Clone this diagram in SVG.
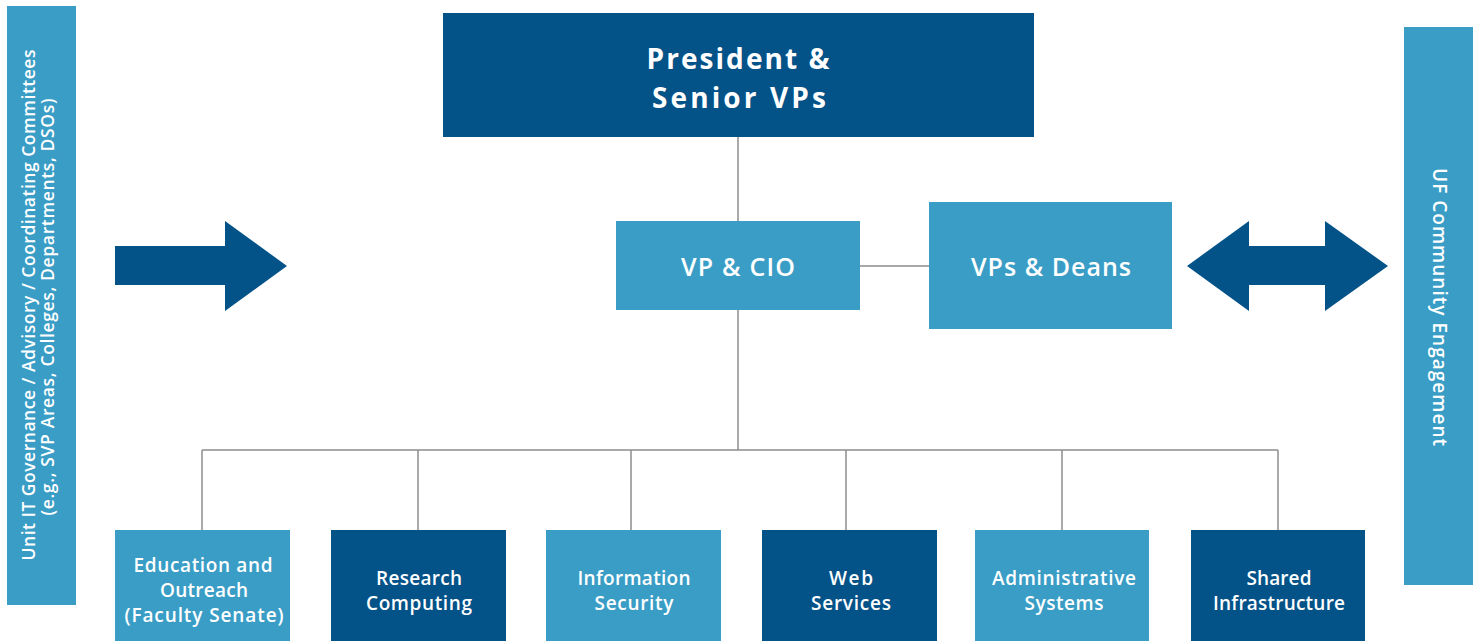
<svg xmlns="http://www.w3.org/2000/svg" width="1481" height="641" viewBox="0 0 1481 641">
<style>
.dark{fill:#035288}
.light{fill:#3a9dc6}
.arrow{fill:#035288}
.t{font-family:"Open Sans","Noto Sans","Liberation Sans",sans-serif;font-weight:600;fill:#ffffff;text-anchor:middle}
.big{font-size:28px;font-weight:700}
.mid{font-size:25px}
.sm{font-size:19px}
.side{font-size:17.5px}
.conn line{stroke:#8c8c8c;stroke-width:1.5;fill:none}
</style>
<rect width="1481" height="641" fill="#ffffff"/>
<g class="conn" id="connectors">
<line x1="738" y1="137" x2="738" y2="221"/>
<line x1="738" y1="310" x2="738" y2="450"/>
<line x1="860" y1="266" x2="929" y2="266"/>
<line x1="202" y1="450" x2="1278" y2="450"/>
<line x1="202" y1="450" x2="202" y2="530"/>
<line x1="418" y1="450" x2="418" y2="530"/>
<line x1="631" y1="450" x2="631" y2="530"/>
<line x1="846" y1="450" x2="846" y2="530"/>
<line x1="1062" y1="450" x2="1062" y2="530"/>
<line x1="1278" y1="450" x2="1278" y2="530"/>
</g>
<g id="unit-it-governance">
<rect class="light" x="7" y="6" width="69" height="599"/>
<text class="t side" transform="translate(35,305) rotate(-90)" textLength="511" lengthAdjust="spacing">Unit IT Governance / Advisory / Coordinating Committees</text>
<text class="t side" transform="translate(54,307) rotate(-90)" textLength="417" lengthAdjust="spacing">(e.g., SVP Areas, Colleges, Departments, DSOs)</text>
</g>
<g id="uf-community">
<rect class="light" x="1404" y="27" width="69" height="558"/>
<text class="t sm" transform="translate(1433,307) rotate(90)" textLength="278" lengthAdjust="spacing">UF Community Engagement</text>
</g>
<g id="arrow-right">
<polygon class="arrow" points="115,246 225,246 225,221 287,266 225,311 225,285 115,285"/>
</g>
<g id="arrow-both">
<polygon class="arrow" points="1187,266 1249,221 1249,246 1325,246 1325,221 1388,266 1325,311 1325,285 1249,285 1249,311"/>
</g>
<g id="president">
<rect class="dark" x="443" y="13" width="591" height="124"/>
<text class="t big" x="738" y="69" textLength="183" lengthAdjust="spacing">President &amp;</text>
<text class="t big" x="739" y="108" textLength="174" lengthAdjust="spacing">Senior VPs</text>
</g>
<g id="vp-cio">
<rect class="light" x="616" y="221" width="244" height="89"/>
<text class="t mid" x="738" y="276" textLength="114" lengthAdjust="spacing">VP &amp; CIO</text>
</g>
<g id="vps-deans">
<rect class="light" x="929" y="202" width="243" height="127"/>
<text class="t mid" x="1051" y="276" textLength="160" lengthAdjust="spacing">VPs &amp; Deans</text>
</g>
<g id="education">
<rect class="light" x="115" y="530" width="175" height="115"/>
<text class="t sm" x="203" y="572" textLength="139" lengthAdjust="spacing">Education and</text>
<text class="t sm" x="204" y="597" textLength="88" lengthAdjust="spacing">Outreach</text>
<text class="t sm" x="204" y="622" textLength="159" lengthAdjust="spacing">(Faculty Senate)</text>
</g>
<g id="research">
<rect class="dark" x="331" y="530" width="175" height="115"/>
<text class="t sm" x="419" y="585" textLength="86" lengthAdjust="spacing">Research</text>
<text class="t sm" x="419" y="610" textLength="106" lengthAdjust="spacing">Computing</text>
</g>
<g id="infosec">
<rect class="light" x="546" y="530" width="175" height="115"/>
<text class="t sm" x="634" y="585" textLength="113" lengthAdjust="spacing">Information</text>
<text class="t sm" x="634" y="610" textLength="79" lengthAdjust="spacing">Security</text>
</g>
<g id="web">
<rect class="dark" x="762" y="530" width="175" height="115"/>
<text class="t sm" x="851" y="585" textLength="44" lengthAdjust="spacing">Web</text>
<text class="t sm" x="851" y="610" textLength="80" lengthAdjust="spacing">Services</text>
</g>
<g id="admin">
<rect class="light" x="975" y="530" width="174" height="115"/>
<text class="t sm" x="1064" y="585" textLength="144" lengthAdjust="spacing">Administrative</text>
<text class="t sm" x="1064" y="610" textLength="79" lengthAdjust="spacing">Systems</text>
</g>
<g id="shared">
<rect class="dark" x="1191" y="530" width="174" height="115"/>
<text class="t sm" x="1279" y="585" textLength="65" lengthAdjust="spacing">Shared</text>
<text class="t sm" x="1279" y="610" textLength="132" lengthAdjust="spacing">Infrastructure</text>
</g>
</svg>
